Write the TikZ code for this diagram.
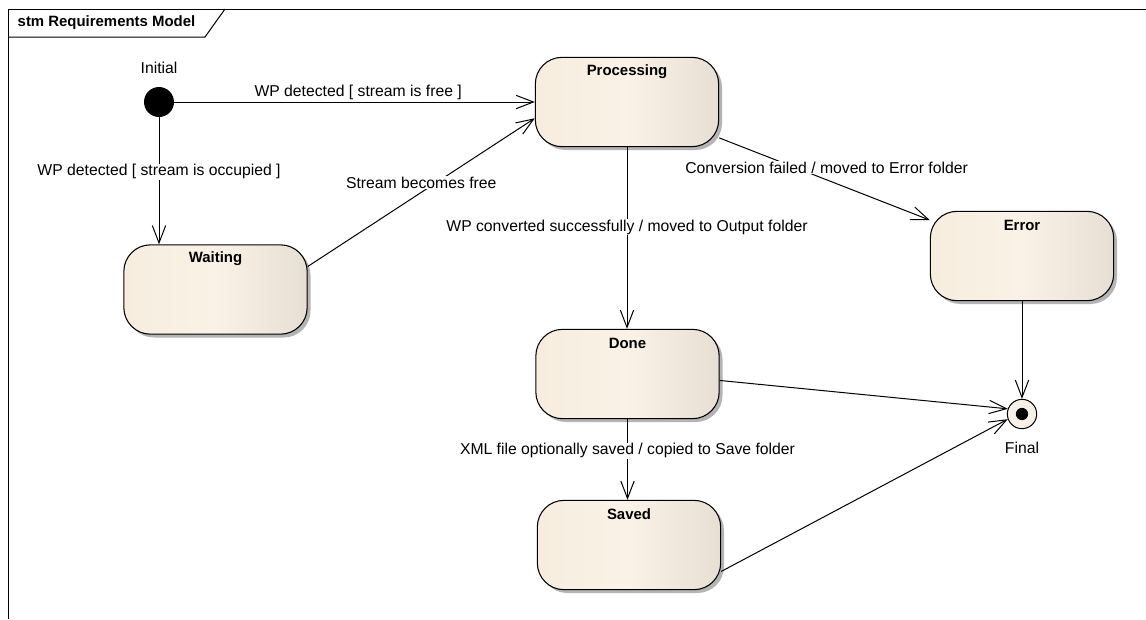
\documentclass[tikz,border=0pt]{standalone}
\usepackage{fontspec}
\setmainfont{Liberation Sans}
\usetikzlibrary{arrows.meta,shadows}
\definecolor{stateL}{RGB}{246,237,223}
\definecolor{stateM}{RGB}{250,242,230}
\definecolor{stateR}{RGB}{231,223,211}
\definecolor{shadowgray}{RGB}{180,180,180}
\definecolor{finalfill}{RGB}{246,240,230}
\begin{document}
\begin{tikzpicture}[x=0.75pt,y=-0.75pt,
  txt/.style={font=\fontsize{11.8}{13}\selectfont},
  every node/.style={txt},
  boldtxt/.style={font=\bfseries\fontsize{11.2}{13}\selectfont},
  state/.style={draw=black, line width=0.8pt, rounded corners=20pt,
    minimum width=137.5pt, minimum height=67pt, inner sep=0pt,
    left color=stateL, right color=stateR, middle color=stateM,
    drop shadow={shadow xshift=2.5pt, shadow yshift=-2.5pt, fill=shadowgray, opacity=1}},
  statename/.style={boldtxt, anchor=center, yshift=-11pt},
  trans/.style={draw, line width=0.75pt, -{Straight Barb[length=13pt,width=10pt,line width=0.75pt]}},
  lbl/.style={fill=white, inner sep=0.5pt}]
\useasboundingbox (0,0) rectangle (1146,619);

% diagram frame and name tab
\draw[line width=0.75pt] (8,619) -- (8,9) -- (1146,9);
\draw[line width=0.75pt] (8,37) -- (205,37) -- (225,9);
\node[anchor=west, boldtxt] (title) at (13,23) {stm Requirements Model};

% pseudostates
\node[circle, fill=black, minimum size=22.5pt, inner sep=0pt,
      label={[anchor=center, yshift=14pt]90:Initial}] (init) at (159,102) {};
\node[circle, draw=black, line width=0.75pt, fill=finalfill, minimum size=22pt, inner sep=0pt,
      path picture={\fill[black] (path picture bounding box.center) circle (4.6pt);},
      label={[anchor=center, yshift=-14pt]270:Final}] (final) at (1022,414) {};

% states
\node[state, label={[statename]north:Processing}] (proc)  at (627,102)   {};
\node[state, label={[statename]north:Waiting}]    (wait)  at (215.5,289.5) {};
\node[state, label={[statename]north:Error}]      (err)   at (1022,256)  {};
\node[state, label={[statename]north:Done}]       (done)  at (627.5,374) {};
\node[state, label={[statename]north:Saved}]      (saved) at (629,545)   {};

% transitions
\draw[trans] (init.east) -- (proc.west)
  node[lbl, pos=0.51, yshift=7.5pt] {WP detected [ stream is free ]};
\draw[trans] (init.south) -- (init |- wait.north)
  node[lbl, pos=0.43] {WP detected [ stream is occupied ]};
\draw[trans] (wait.14) -- (proc.190)
  node[lbl, pos=0.5, yshift=7.5pt] {Stream becomes free};
\draw[trans] (proc) -- (err)
  node[lbl, pos=0.51, yshift=9pt] {Conversion failed / moved to Error folder};
\draw[trans] (proc.south) -- (proc.south |- done.north)
  node[lbl, pos=0.44] {WP converted successfully / moved to Output folder};
\draw[trans] (done.south) -- (done.south |- saved.north)
  node[lbl, pos=0.39] {XML file optionally saved / copied to Save folder};
\draw[trans] (err.south) -- (final.north);
\draw[trans] (done.-4) -- (final.160);
\draw[trans] (saved.-16) -- (final.200);
\end{tikzpicture}
\end{document}
